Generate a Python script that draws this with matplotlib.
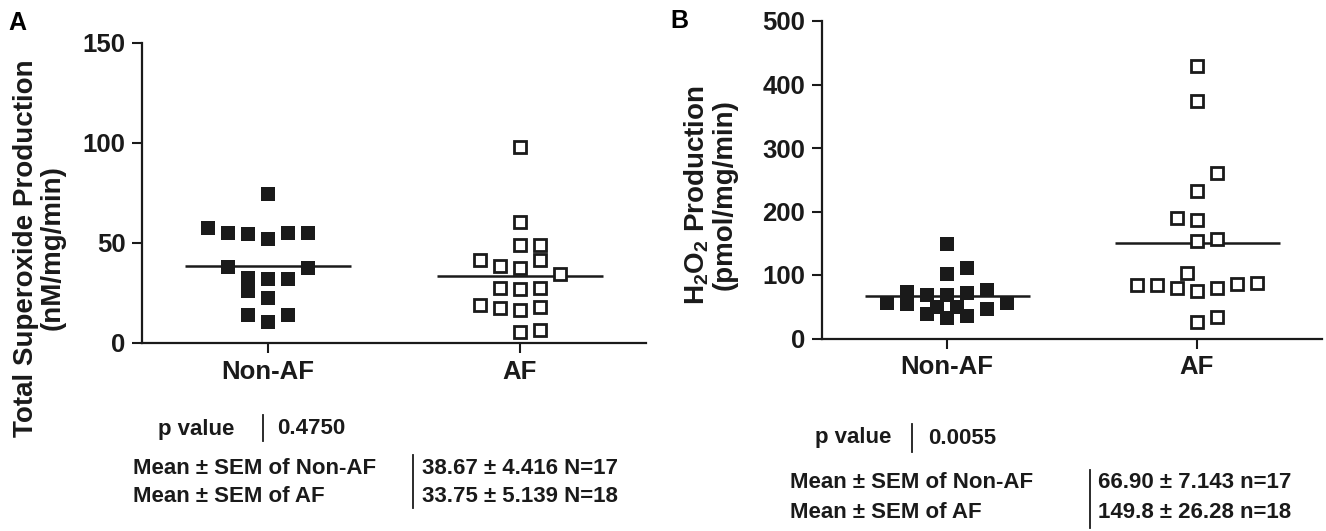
import matplotlib
matplotlib.use("Agg")
import matplotlib.pyplot as plt
from matplotlib.lines import Line2D

plt.rcParams['font.family'] = ['Liberation Sans', 'DejaVu Sans']
plt.rcParams['mathtext.fontset'] = 'custom'
plt.rcParams['mathtext.rm'] = 'Liberation Sans'

W, H = 1326, 531

# ---- data ----
groups = ["Non-AF", "AF"]

superoxide_nonaf = [74.5, 57.5, 55, 54.5, 52, 55, 55, 38, 37.5, 32.5, 26, 32, 32,
                    22.5, 14, 10.5, 14]
superoxide_af = [98, 60.7, 49, 49, 41.5, 41.5, 38.5, 37.5, 34.5, 27.7, 27, 27.5,
                 19, 17.5, 16.5, 18, 5.7, 6.5]
superoxide_means = [38.67, 33.75]

h2o2_nonaf = [148.6, 111.7, 101, 56.5, 73.8, 54, 68.6, 38.2, 68.6, 32.8, 71.3, 36,
              76.5, 46, 55.5, 49, 49]
h2o2_af = [428.7, 373.5, 260.6, 232.6, 189.6, 187, 153.8, 156.5, 102.8, 84.4, 84.4,
           79.2, 75.4, 80.1, 85.5, 88, 26.5, 34.4]
h2o2_means = [66.90, 149.8]

# scatter column slot of each point (Prism style column layout)
slot_a_nonaf = [0, -3, -2, -1, 0, 1, 2, -2, 2, -1, -1, 0, 1, 0, -1, 0, 1]
slot_a_af = [0, 0, 0, 1, -2, 1, -1, 0, 2, -1, 0, 1, -2, -1, 0, 1, 0, 1]
slot_b_nonaf = [0, 1, 0, -3, -2, -2, -1, -1, 0, 0, 1, 1, 2, 2, 3, -0.5, 0.5]
slot_b_af = [0, 0, 1, 0, -1, 0, 0, 1, -0.5, -3, -2, -1, 0, 1, 2, 3, 0, 1]
SLOT = 0.08

table_a = {"p": "0.4750",
           "rows": ["Mean \u00b1 SEM of Non-AF", "Mean \u00b1 SEM of AF"],
           "vals": ["38.67 \u00b1 4.416 N=17", "33.75 \u00b1 5.139 N=18"]}
table_b = {"p": "0.0055",
           "rows": ["Mean \u00b1 SEM of Non-AF", "Mean \u00b1 SEM of AF"],
           "vals": ["66.90 \u00b1 7.143 n=17", "149.8 \u00b1 26.28 n=18"]}


def fx(x):
    return x / W


def fy(y):
    return 1 - y / H


def make_axes(fig, left, right, bottom, top):
    return fig.add_axes([fx(left), fy(bottom), fx(right) - fx(left), fy(top) - fy(bottom)])


def draw_panel(ax, nonaf, af, slots_n, slots_a, means, ymax, yticks):
    xs = [0 + s * SLOT for s in slots_n]
    ax.plot(xs, nonaf, 's', color='#1a1a1a', markersize=10, markeredgewidth=0,
            clip_on=False, zorder=3)
    xs = [1 + s * SLOT for s in slots_a]
    ax.plot(xs, af, 's', markerfacecolor='white', markeredgecolor='#1a1a1a',
            markersize=9, markeredgewidth=2.0, clip_on=False, zorder=3)
    for i, m in enumerate(means):
        ax.plot([i - 0.33, i + 0.33], [m, m], color='#1a1a1a', lw=1.8, zorder=2,
                solid_capstyle='butt')
    ax.set_xlim(-0.5, 1.5)
    ax.set_ylim(0, ymax)
    ax.set_yticks(yticks)
    ax.set_xticks([0, 1])
    ax.set_xticklabels(groups)
    for s in ['top', 'right']:
        ax.spines[s].set_visible(False)
    for s in ['left', 'bottom']:
        ax.spines[s].set_linewidth(1.6)
        ax.spines[s].set_color('#1a1a1a')
    ax.tick_params(axis='both', length=7, width=1.5, color='#1a1a1a',
                   labelsize=18.5, pad=5)
    for lab in ax.get_xticklabels() + ax.get_yticklabels():
        lab.set_fontweight('bold')
        lab.set_color('#1a1a1a')


def draw_table(fig, tab, p_label_x, p_bar_x, p_val_x, p_y, p_bar_y,
               row_x, row_ys, bar_x, bar_y, val_x):
    kw = dict(fontsize=16, fontweight='bold', color='#1a1a1a', va='center')
    fig.text(fx(p_label_x), fy(p_y), "p value", **kw)
    fig.text(fx(p_val_x), fy(p_y), tab["p"], **kw)
    fig.add_artist(Line2D([fx(p_bar_x)] * 2, [fy(p_bar_y[0]), fy(p_bar_y[1])],
                          transform=fig.transFigure, color='#1a1a1a', lw=1.3))
    for txt, val, y in zip(tab["rows"], tab["vals"], row_ys):
        fig.text(fx(row_x), fy(y), txt, **kw)
        fig.text(fx(val_x), fy(y), val, **kw)
    fig.add_artist(Line2D([fx(bar_x)] * 2, [fy(bar_y[0]), fy(bar_y[1])],
                          transform=fig.transFigure, color='#1a1a1a', lw=1.3))


fig = plt.figure(figsize=(W / 100, H / 100), dpi=100)

ax_a = make_axes(fig, 142, 646, 343, 43)
draw_panel(ax_a, superoxide_nonaf, superoxide_af, slot_a_nonaf, slot_a_af,
           superoxide_means, 150, [0, 50, 100, 150])

ax_b = make_axes(fig, 822, 1322, 338.5, 21)
draw_panel(ax_b, h2o2_nonaf, h2o2_af, slot_b_nonaf, slot_b_af,
           h2o2_means, 500, [0, 100, 200, 300, 400, 500])

# y labels
lab_kw = dict(fontsize=20, fontweight='bold', color='#1a1a1a', rotation=90,
              ha='center', va='center')
fig.text(fx(26), fy(248), "Total Superoxide Production", **lab_kw)
fig.text(fx(53), fy(248), "(nM/mg/min)", **lab_kw)
fig.text(fx(697), fy(195), r"H$_\mathregular{2}$O$_\mathregular{2}$ Production", **lab_kw)
fig.text(fx(725), fy(195), "(pmol/mg/min)", **lab_kw)

# panel letters
fig.text(fx(8), fy(23), "A", fontsize=18, fontweight='bold', va='center')
fig.text(fx(670), fy(21), "B", fontsize=18, fontweight='bold', va='center')

draw_table(fig, table_a, 158, 263, 277, 429, (415, 441),
           133, [468, 496], 413, (455, 508), 422)
draw_table(fig, table_b, 815, 912, 928, 438, (424, 452),
           790, [483, 513], 1090, (470, 528), 1098)

fig.savefig("out.png", dpi=100)
